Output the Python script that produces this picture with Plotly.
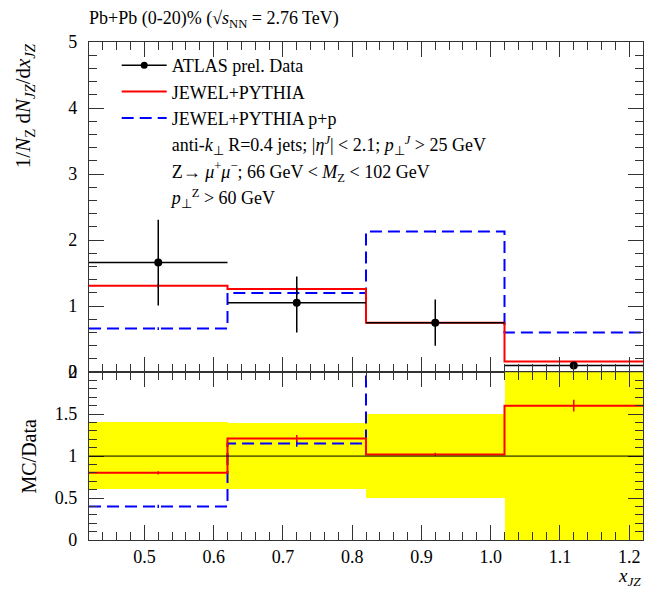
import plotly.graph_objects as go
from plotly.subplots import make_subplots

# ---- data ----
bin_edges = [0.42, 0.62, 0.82, 1.02, 1.22]
bin_centers = [0.52, 0.72, 0.92, 1.12]
half_width = [0.1, 0.1, 0.1, 0.1]

data_vals = [1.66, 1.05, 0.75, 0.10]
data_err_up = [0.65, 0.40, 0.35, 0.04]
data_err_dn = [0.65, 0.45, 0.35, 0.04]

jewel_vals = [1.31, 1.26, 0.75, 0.16]
jewel_err = [0.03, 0.03, 0.02, 0.01]
pp_vals = [0.66, 1.20, 2.13, 0.60]
pp_err = [0.02, 0.03, 0.02, 0.01]

band_lo = [0.60, 0.61, 0.50, 0.00]
band_hi = [1.41, 1.39, 1.50, 2.00]
jewel_ratio = [0.80, 1.21, 1.02, 1.60]
jewel_ratio_err = [0.02, 0.04, 0.02, 0.07]
pp_ratio = [0.40, 1.15, 2.85, 7.50]
pp_ratio_err = [0.02, 0.04, 0.02, 0.10]

legend_labels = ["ATLAS prel. Data", "JEWEL+PYTHIA", "JEWEL+PYTHIA p+p"]
extra_lines = [
    "anti-<i>k</i><sub>⊥</sub> R=0.4 jets; |<i>η</i><sup><i>J</i></sup>| &lt; 2.1; <i>p</i><sub>⊥</sub><sup><i>J</i></sup> &gt; 25 GeV",
    "Z→ <i>μ</i><sup>+</sup><i>μ</i><sup>−</sup>; 66 GeV &lt; <i>M</i><sub>Z</sub> &lt; 102 GeV",
    "<i>p</i><sub>⊥</sub><sup>Z</sup> &gt; 60 GeV",
]

FONT = "Liberation Serif"
RED = "#ff0000"
BLUE = "#0000ff"
YEL = "#ffff00"


def steps(vals):
    return list(vals) + [vals[-1]]


fig = make_subplots(rows=2, cols=1, shared_xaxes=True, vertical_spacing=0,
                    row_heights=[0.663, 0.337])

# ---- main panel ----
fig.add_trace(go.Scatter(x=bin_edges, y=steps(pp_vals), mode="lines", line_shape="hv",
                         line=dict(color=BLUE, width=2, dash="12px,6px"),
                         showlegend=False, hoverinfo="skip"), row=1, col=1)
fig.add_trace(go.Scatter(x=bin_centers, y=pp_vals, mode="markers", marker=dict(size=0.1, color=BLUE),
                         error_y=dict(type="data", array=pp_err, color=BLUE, thickness=1.5, width=0),
                         showlegend=False, hoverinfo="skip"), row=1, col=1)
fig.add_trace(go.Scatter(x=bin_edges, y=steps(jewel_vals), mode="lines", line_shape="hv",
                         line=dict(color=RED, width=2),
                         showlegend=False, hoverinfo="skip"), row=1, col=1)
fig.add_trace(go.Scatter(x=bin_centers, y=jewel_vals, mode="markers", marker=dict(size=0.1, color=RED),
                         error_y=dict(type="data", array=jewel_err, color=RED, thickness=1.5, width=0),
                         showlegend=False, hoverinfo="skip"), row=1, col=1)
fig.add_trace(go.Scatter(x=bin_centers, y=data_vals, mode="markers",
                         marker=dict(size=8, color="black"),
                         error_y=dict(type="data", array=data_err_up, arrayminus=data_err_dn,
                                      color="black", thickness=1.5, width=0),
                         error_x=dict(type="data", array=half_width, color="black", thickness=1.5, width=0),
                         showlegend=False, hoverinfo="skip"), row=1, col=1)

# legend entries
fig.add_trace(go.Scatter(x=[None], y=[None], mode="lines+markers", name=legend_labels[0],
                         line=dict(color="black", width=1.5), marker=dict(size=7, color="black")),
              row=1, col=1)
fig.add_trace(go.Scatter(x=[None], y=[None], mode="lines", name=legend_labels[1],
                         line=dict(color=RED, width=2)), row=1, col=1)
fig.add_trace(go.Scatter(x=[None], y=[None], mode="lines", name=legend_labels[2],
                         line=dict(color=BLUE, width=2, dash="12px,6px")), row=1, col=1)
for t in extra_lines:
    fig.add_trace(go.Scatter(x=[None], y=[None], mode="lines", name=t,
                             line=dict(color="rgba(0,0,0,0)", width=0)), row=1, col=1)

# ---- ratio panel ----
fig.add_trace(go.Bar(x=bin_centers, y=[h - l for h, l in zip(band_hi, band_lo)], base=band_lo,
                     width=0.2, marker=dict(color=YEL, line=dict(width=0)),
                     showlegend=False, hoverinfo="skip"), row=2, col=1)
fig.add_hline(y=1, line=dict(color="black", width=1), row=2, col=1)
fig.add_trace(go.Scatter(x=bin_edges, y=steps(pp_ratio), mode="lines", line_shape="hv",
                         line=dict(color=BLUE, width=2, dash="12px,6px"),
                         showlegend=False, hoverinfo="skip"), row=2, col=1)
fig.add_trace(go.Scatter(x=bin_centers, y=pp_ratio, mode="markers", marker=dict(size=0.1, color=BLUE),
                         error_y=dict(type="data", array=pp_ratio_err, color=BLUE, thickness=1.5, width=0),
                         showlegend=False, hoverinfo="skip", cliponaxis=True), row=2, col=1)
fig.add_trace(go.Scatter(x=bin_edges, y=steps(jewel_ratio), mode="lines", line_shape="hv",
                         line=dict(color=RED, width=2),
                         showlegend=False, hoverinfo="skip"), row=2, col=1)
fig.add_trace(go.Scatter(x=bin_centers, y=jewel_ratio, mode="markers", marker=dict(size=0.1, color=RED),
                         error_y=dict(type="data", array=jewel_ratio_err, color=RED, thickness=1.5, width=0),
                         showlegend=False, hoverinfo="skip"), row=2, col=1)

axis_common = dict(showgrid=False, zeroline=False, showline=True, linecolor="#333333",
                   linewidth=1.2, mirror="ticks", ticks="inside", tickcolor="#333333")

fig.update_xaxes(**axis_common, range=[0.42, 1.22], tickvals=[0.5, 0.6, 0.7, 0.8, 0.9, 1.0, 1.1, 1.2],
                 ticklen=15, tickwidth=1,
                 minor=dict(dtick=0.02, tick0=0.42, ticks="inside", ticklen=8, tickcolor="#333333"))
fig.update_xaxes(showticklabels=False, row=1, col=1)
fig.update_xaxes(ticktext=["0.5", "0.6", "0.7", "0.8", "0.9", "1.0", "1.1", "1.2"],
                 tickfont=dict(size=18, family=FONT, color="black"), row=2, col=1)

fig.update_yaxes(**axis_common, range=[0, 5], dtick=1, ticklen=15, ticklabelstandoff=7,
                 minor=dict(dtick=0.2, ticks="inside", ticklen=8, tickcolor="#333333"),
                 tickfont=dict(size=18, family=FONT, color="black"), row=1, col=1)
fig.update_yaxes(**axis_common, range=[0, 2], tickvals=[0, 0.5, 1, 1.5, 2],
                 ticktext=["0", "0.5", "1", "1.5", "2"], ticklen=15, ticklabelstandoff=7,
                 minor=dict(dtick=0.1, ticks="inside", ticklen=8, tickcolor="#333333"),
                 tickfont=dict(size=18, family=FONT, color="black"), row=2, col=1)

fig.add_annotation(text="1/<i>N</i><sub>Z</sub> d<i>N</i><sub><i>JZ</i></sub>/d<i>x</i><sub><i>JZ</i></sub>",
                   xref="paper", yref="paper", x=-0.118, y=1.002, xanchor="center", yanchor="top",
                   textangle=-90, showarrow=False, font=dict(size=21, family=FONT, color="black"))
fig.add_annotation(text="MC/Data", xref="paper", yref="paper", x=-0.108, y=0.168,
                   xanchor="center", yanchor="middle", textangle=-90, showarrow=False,
                   font=dict(size=20, family=FONT, color="black"))
fig.add_annotation(text="<i>x</i><sub><i>JZ</i></sub>", xref="paper", yref="paper", x=1.0, y=-0.074,
                   xanchor="right", yanchor="middle", showarrow=False,
                   font=dict(size=19, family=FONT, color="black"))

# page body has an 8px margin: the figure is sized to fit the 662x592 window
fig.update_layout(
    width=654, height=584,
    margin=dict(l=81, r=19, t=34, b=52),
    paper_bgcolor="white", plot_bgcolor="white",
    font=dict(family=FONT, color="black"),
    title=dict(text="Pb+Pb (0-20)% (√<i>s</i><sub>NN</sub> = 2.76 TeV)",
               x=81 / 654, xanchor="left", y=1 - 10 / 584, yanchor="middle",
               font=dict(size=18, family=FONT, color="black")),
    legend=dict(x=0.05, y=0.99, xanchor="left", yanchor="top", bgcolor="rgba(0,0,0,0)",
                font=dict(size=18, family=FONT, color="black"), itemwidth=45,
                tracegroupgap=0, itemclick=False),
    bargap=0,
    showlegend=True,
)

fig.write_html("out.html")
